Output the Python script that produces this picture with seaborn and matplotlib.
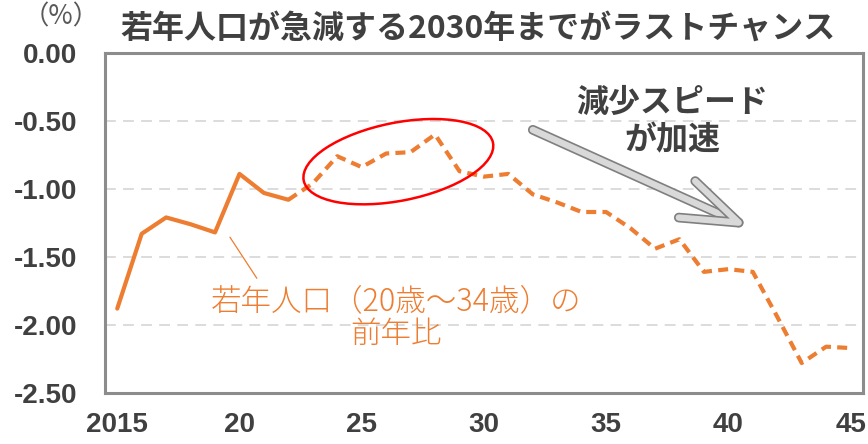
import numpy as np
import pandas as pd
import seaborn as sns
import matplotlib.pyplot as plt
import matplotlib.patheffects as pe
from matplotlib.patches import Ellipse
from matplotlib.transforms import ScaledTranslation

# data (year-on-year change of population aged 20-34, %)
years = list(range(2015, 2046))
values = [-1.88, -1.33, -1.21, -1.26, -1.32, -0.89, -1.03, -1.08,
          -0.96, -0.76, -0.84, -0.74, -0.73, -0.60, -0.87, -0.91, -0.89,
          -1.04, -1.10, -1.17, -1.17, -1.29, -1.44, -1.37, -1.61, -1.59,
          -1.61, -1.94, -2.28, -2.16, -2.17]
last_actual = 2022

xtick_pos = [2015, 2020, 2025, 2030, 2035, 2040, 2045]
xtick_labels = ['2015', '20', '25', '30', '35', '40', '45']
ytick_pos = [0.0, -0.5, -1.0, -1.5, -2.0, -2.5]
ytick_labels = ['0.00', '-0.50', '-1.00', '-1.50', '-2.00', '-2.50']

title = '若年人口が急減する2030年までがラストチャンス'
unit = '（%）'
series_label = '若年人口（20歳～34歳）の\n前年比'
arrow_label = '減少スピード\nが加速'

df = pd.DataFrame({'year': years, 'value': values})
solid = df[df['year'] <= last_actual]
dashed = df[df['year'] >= last_actual]

sns.set_theme(style='white')
cjk = ['Noto Sans CJK JP', 'DejaVu Sans']
orange = '#ED7D31'
dark = '#404040'

fig = plt.figure(figsize=(8.68, 4.44), dpi=100)
ax = fig.add_axes([0.121, 0.115, 0.873, 0.766])

sns.lineplot(data=solid, x='year', y='value', ax=ax, color=orange, lw=3)
sns.lineplot(data=dashed, x='year', y='value', ax=ax, color=orange, lw=3,
             linestyle=(0, (2.4, 1.5)))

ax.set_xlim(2014.5, 2045.5)
ax.set_ylim(-2.5, 0)
ax.set_xticks(xtick_pos)
ax.set_xticklabels(xtick_labels)
ax.set_yticks(ytick_pos)
ax.set_yticklabels(ytick_labels)
ax.set_xlabel('')
ax.set_ylabel('')
for lab in ax.get_xticklabels() + ax.get_yticklabels():
    lab.set_fontfamily('Liberation Sans')
    lab.set_fontweight('bold')
    lab.set_fontsize(20)
    lab.set_color(dark)
ax.tick_params(axis='both', length=0)
ax.tick_params(axis='y', pad=20)
ax.tick_params(axis='x', pad=14)

for v in ytick_pos[1:-1]:
    ax.axhline(v, color='#D9D9D9', lw=1.3, ls=(0, (6, 4)), zorder=0)
for s in ax.spines.values():
    s.set_color('#8C8C8C')
    s.set_linewidth(2.2)

# leader line for the series label
ax.plot([2019.61, 2020.71], [-1.355, -1.657], color=orange, lw=0.9)
ax.text(2026.4, -1.945, series_label, ha='center', va='center', fontsize=22,
        color=orange, family=cjk, fontweight='light', linespacing=1.05)

# red ellipse around the 2024-2028 bump
tr = fig.dpi_scale_trans + ScaledTranslation(2026.5, -0.80, ax.transData)
ax.add_patch(Ellipse((0, 0), 1.93, 0.78, angle=11.3, transform=tr,
                     fill=False, ec='#FF0000', lw=1.8, zorder=5))

# grey arrow
ax.annotate('', xy=(2040.78, -1.277), xytext=(2032.0, -0.566),
            arrowprops=dict(arrowstyle='->,head_length=3.4,head_width=1.2',
                            color='#D9D9D9', lw=4.6, shrinkA=0, shrinkB=0,
                            joinstyle='round', capstyle='round',
                            path_effects=[pe.Stroke(linewidth=7, foreground='#7F7F7F'),
                                          pe.Normal()]),
            zorder=6)
ax.text(2037.7, -0.505, arrow_label, ha='center', va='center', fontsize=23,
        fontweight='bold', color=dark, family=cjk, linespacing=1.2)

fig.text(0.551, 0.935, title, ha='center', va='center', fontsize=23,
         fontweight='bold', color=dark, family=cjk)
fig.text(0.071, 0.962, unit, ha='center', va='center', fontsize=19,
         color='#595959', family=cjk)

fig.savefig('out.png', dpi=100)
